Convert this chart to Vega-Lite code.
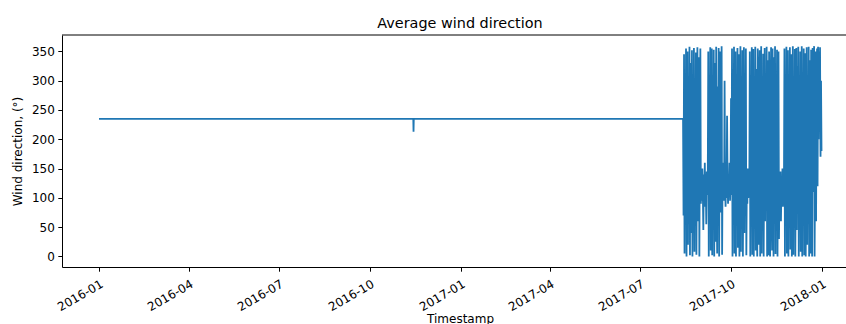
{
 "$schema": "https://vega.github.io/schema/vega-lite/v6.json",
 "width": 784, "height": 232,
 "autosize": {"type": "none"},
 "padding": {"left": 62, "top": 35, "right": 0, "bottom": 57},
 "background": "white",
 "config": {
  "view": {"stroke": null},
  "font": "DejaVu Sans",
  "axis": {"grid": false, "domainColor": "black", "domainWidth": 1, "tickColor": "black", "tickWidth": 1, "tickSize": 4.2, "labelColor": "black", "labelFontSize": 12, "labelFont": "DejaVu Sans", "titleFont": "DejaVu Sans", "titleFontSize": 12, "titleFontWeight": "normal", "titleColor": "black", "labelOverlap": false}
 },
 "title": {"text": "Average wind direction", "fontSize": 14.4, "fontWeight": "normal", "font": "DejaVu Sans", "color": "black", "anchor": "middle", "dx": 6, "offset": 3},
 "datasets": {
  "wind": [
   {"t":"2016-01-01T00:00","v":235},{"t":"2016-11-13T18:00","v":235},{"t":"2016-11-14T00:00","v":213},{"t":"2016-11-14T06:00","v":235},{"t":"2017-08-13T12:00","v":235},
   {"t":"2017-08-14T00:00","v":70},{"t":"2017-08-14T12:00","v":345},{"t":"2017-08-15T00:00","v":5},{"t":"2017-08-15T12:00","v":300},{"t":"2017-08-16T00:00","v":120},{"t":"2017-08-16T12:00","v":355},{"t":"2017-08-17T00:00","v":0},{"t":"2017-08-17T12:00","v":150},{"t":"2017-08-18T00:00","v":350},{"t":"2017-08-18T12:00","v":20},{"t":"2017-08-19T00:00","v":260},{"t":"2017-08-19T12:00","v":95},{"t":"2017-08-20T00:00","v":358},{"t":"2017-08-20T12:00","v":2},{"t":"2017-08-21T00:00","v":330},{"t":"2017-08-21T12:00","v":110},{"t":"2017-08-22T00:00","v":40},{"t":"2017-08-22T12:00","v":352},{"t":"2017-08-23T00:00","v":0},{"t":"2017-08-23T12:00","v":200},{"t":"2017-08-24T00:00","v":135},{"t":"2017-08-24T12:00","v":356},{"t":"2017-08-25T00:00","v":8},{"t":"2017-08-25T12:00","v":280},{"t":"2017-08-26T00:00","v":100},{"t":"2017-08-26T12:00","v":348},{"t":"2017-08-27T00:00","v":3},{"t":"2017-08-27T12:00","v":175},{"t":"2017-08-28T00:00","v":357},{"t":"2017-08-28T12:00","v":60},{"t":"2017-08-29T00:00","v":125},{"t":"2017-08-29T12:00","v":340},{"t":"2017-08-30T00:00","v":0},{"t":"2017-08-30T12:00","v":230},{"t":"2017-08-31T00:00","v":355},{"t":"2017-08-31T12:00","v":90},
   {"t":"2017-09-01T00:00","v":130},{"t":"2017-09-01T12:00","v":95},{"t":"2017-09-02T00:00","v":150},{"t":"2017-09-02T12:00","v":110},{"t":"2017-09-03T00:00","v":45},{"t":"2017-09-03T12:00","v":140},{"t":"2017-09-04T00:00","v":100},{"t":"2017-09-04T12:00","v":160},{"t":"2017-09-05T00:00","v":85},{"t":"2017-09-05T12:00","v":120},{"t":"2017-09-06T00:00","v":55},{"t":"2017-09-06T12:00","v":145},{"t":"2017-09-07T00:00","v":105},{"t":"2017-09-07T12:00","v":135},
   {"t":"2017-09-08T00:00","v":350},{"t":"2017-09-08T12:00","v":0},{"t":"2017-09-09T00:00","v":310},{"t":"2017-09-09T12:00","v":90},{"t":"2017-09-10T00:00","v":357},{"t":"2017-09-10T12:00","v":10},{"t":"2017-09-11T00:00","v":140},{"t":"2017-09-11T12:00","v":355},{"t":"2017-09-12T00:00","v":2},{"t":"2017-09-12T12:00","v":250},{"t":"2017-09-13T00:00","v":115},{"t":"2017-09-13T12:00","v":353},{"t":"2017-09-14T00:00","v":0},{"t":"2017-09-14T12:00","v":180},{"t":"2017-09-15T00:00","v":330},{"t":"2017-09-15T12:00","v":25},{"t":"2017-09-16T00:00","v":358},{"t":"2017-09-16T12:00","v":100},{"t":"2017-09-17T00:00","v":5},{"t":"2017-09-17T12:00","v":290},{"t":"2017-09-18T00:00","v":130},{"t":"2017-09-18T12:00","v":356},{"t":"2017-09-19T00:00","v":0},{"t":"2017-09-19T12:00","v":215},{"t":"2017-09-20T00:00","v":350},{"t":"2017-09-20T12:00","v":75},{"t":"2017-09-21T00:00","v":120},{"t":"2017-09-21T12:00","v":359},{"t":"2017-09-22T00:00","v":3},{"t":"2017-09-22T12:00","v":160},
   {"t":"2017-09-23T00:00","v":110},{"t":"2017-09-23T12:00","v":145},{"t":"2017-09-24T00:00","v":95},{"t":"2017-09-24T12:00","v":300},{"t":"2017-09-25T00:00","v":120},{"t":"2017-09-25T12:00","v":85},{"t":"2017-09-26T00:00","v":150},{"t":"2017-09-26T12:00","v":100},{"t":"2017-09-27T00:00","v":240},{"t":"2017-09-27T12:00","v":130},{"t":"2017-09-28T00:00","v":90},{"t":"2017-09-28T12:00","v":140},{"t":"2017-09-29T00:00","v":115},{"t":"2017-09-29T12:00","v":160},{"t":"2017-09-30T00:00","v":95},{"t":"2017-09-30T12:00","v":125},{"t":"2017-10-01T00:00","v":270},{"t":"2017-10-01T12:00","v":105},
   {"t":"2017-10-02T00:00","v":355},{"t":"2017-10-02T12:00","v":0},{"t":"2017-10-03T00:00","v":320},{"t":"2017-10-03T12:00","v":120},{"t":"2017-10-04T00:00","v":358},{"t":"2017-10-04T12:00","v":5},{"t":"2017-10-05T00:00","v":100},{"t":"2017-10-05T12:00","v":350},{"t":"2017-10-06T00:00","v":0},{"t":"2017-10-06T12:00","v":270},{"t":"2017-10-07T00:00","v":140},{"t":"2017-10-07T12:00","v":356},{"t":"2017-10-08T00:00","v":15},{"t":"2017-10-08T12:00","v":195},{"t":"2017-10-09T00:00","v":345},{"t":"2017-10-09T12:00","v":0},{"t":"2017-10-10T00:00","v":130},{"t":"2017-10-10T12:00","v":359},{"t":"2017-10-11T00:00","v":8},{"t":"2017-10-11T12:00","v":240},{"t":"2017-10-12T00:00","v":90},{"t":"2017-10-12T12:00","v":352},{"t":"2017-10-13T00:00","v":0},{"t":"2017-10-13T12:00","v":160},{"t":"2017-10-14T00:00","v":357},{"t":"2017-10-14T12:00","v":40},{"t":"2017-10-15T00:00","v":310},{"t":"2017-10-15T12:00","v":110},{"t":"2017-10-16T00:00","v":355},{"t":"2017-10-16T12:00","v":2},
   {"t":"2017-10-17T00:00","v":130},{"t":"2017-10-17T12:00","v":90},{"t":"2017-10-18T00:00","v":150},{"t":"2017-10-18T12:00","v":100},{"t":"2017-10-19T00:00","v":140},{"t":"2017-10-19T12:00","v":115},
   {"t":"2017-10-20T00:00","v":350},{"t":"2017-10-20T12:00","v":0},{"t":"2017-10-21T00:00","v":285},{"t":"2017-10-21T12:00","v":125},{"t":"2017-10-22T00:00","v":357},{"t":"2017-10-22T12:00","v":3},{"t":"2017-10-23T00:00","v":160},{"t":"2017-10-23T12:00","v":354},{"t":"2017-10-24T00:00","v":0},{"t":"2017-10-24T12:00","v":230},{"t":"2017-10-25T00:00","v":105},{"t":"2017-10-25T12:00","v":358},{"t":"2017-10-26T00:00","v":10},{"t":"2017-10-26T12:00","v":320},{"t":"2017-10-27T00:00","v":95},{"t":"2017-10-27T12:00","v":0},{"t":"2017-10-28T00:00","v":355},{"t":"2017-10-28T12:00","v":140},{"t":"2017-10-29T00:00","v":20},{"t":"2017-10-29T12:00","v":300},{"t":"2017-10-30T00:00","v":352},{"t":"2017-10-30T12:00","v":0},{"t":"2017-10-31T00:00","v":115},{"t":"2017-10-31T12:00","v":359},
   {"t":"2017-11-01T00:00","v":5},{"t":"2017-11-01T12:00","v":210},{"t":"2017-11-02T00:00","v":130},{"t":"2017-11-02T12:00","v":346},{"t":"2017-11-03T00:00","v":0},{"t":"2017-11-03T12:00","v":175},{"t":"2017-11-04T00:00","v":356},{"t":"2017-11-04T12:00","v":60},{"t":"2017-11-05T00:00","v":255},{"t":"2017-11-05T12:00","v":98},{"t":"2017-11-06T00:00","v":358},{"t":"2017-11-06T12:00","v":0},{"t":"2017-11-07T00:00","v":335},{"t":"2017-11-07T12:00","v":120},{"t":"2017-11-08T00:00","v":2},{"t":"2017-11-08T12:00","v":350},{"t":"2017-11-09T00:00","v":150},{"t":"2017-11-09T12:00","v":0},{"t":"2017-11-10T00:00","v":270},{"t":"2017-11-10T12:00","v":357},{"t":"2017-11-11T00:00","v":85},{"t":"2017-11-11T12:00","v":10},{"t":"2017-11-12T00:00","v":355},{"t":"2017-11-12T12:00","v":190},{"t":"2017-11-13T00:00","v":0},{"t":"2017-11-13T12:00","v":340},{"t":"2017-11-14T00:00","v":110},{"t":"2017-11-14T12:00","v":359},{"t":"2017-11-15T00:00","v":4},{"t":"2017-11-15T12:00","v":230},{"t":"2017-11-16T00:00","v":125},{"t":"2017-11-16T12:00","v":353},{"t":"2017-11-17T00:00","v":0},{"t":"2017-11-17T12:00","v":165},{"t":"2017-11-18T00:00","v":350},{"t":"2017-11-18T12:00","v":30},
   {"t":"2017-11-19T00:00","v":120},{"t":"2017-11-19T12:00","v":95},{"t":"2017-11-20T00:00","v":145},{"t":"2017-11-20T12:00","v":60},{"t":"2017-11-21T00:00","v":130},{"t":"2017-11-21T12:00","v":100},{"t":"2017-11-22T00:00","v":150},{"t":"2017-11-22T12:00","v":85},{"t":"2017-11-23T00:00","v":140},{"t":"2017-11-23T12:00","v":110},
   {"t":"2017-11-24T00:00","v":355},{"t":"2017-11-24T12:00","v":0},{"t":"2017-11-25T00:00","v":310},{"t":"2017-11-25T12:00","v":130},{"t":"2017-11-26T00:00","v":358},{"t":"2017-11-26T12:00","v":5},{"t":"2017-11-27T00:00","v":100},{"t":"2017-11-27T12:00","v":352},{"t":"2017-11-28T00:00","v":0},{"t":"2017-11-28T12:00","v":250},{"t":"2017-11-29T00:00","v":140},{"t":"2017-11-29T12:00","v":357},{"t":"2017-11-30T00:00","v":12},{"t":"2017-11-30T12:00","v":190},
   {"t":"2017-12-01T00:00","v":345},{"t":"2017-12-01T12:00","v":0},{"t":"2017-12-02T00:00","v":120},{"t":"2017-12-02T12:00","v":359},{"t":"2017-12-03T00:00","v":3},{"t":"2017-12-03T12:00","v":280},{"t":"2017-12-04T00:00","v":95},{"t":"2017-12-04T12:00","v":354},{"t":"2017-12-05T00:00","v":0},{"t":"2017-12-05T12:00","v":165},{"t":"2017-12-06T00:00","v":356},{"t":"2017-12-06T12:00","v":45},{"t":"2017-12-07T00:00","v":325},{"t":"2017-12-07T12:00","v":115},{"t":"2017-12-08T00:00","v":358},{"t":"2017-12-08T12:00","v":0},{"t":"2017-12-09T00:00","v":220},{"t":"2017-12-09T12:00","v":135},{"t":"2017-12-10T00:00","v":350},{"t":"2017-12-10T12:00","v":8},{"t":"2017-12-11T00:00","v":105},{"t":"2017-12-11T12:00","v":359},{"t":"2017-12-12T00:00","v":0},{"t":"2017-12-12T12:00","v":295},{"t":"2017-12-13T00:00","v":150},{"t":"2017-12-13T12:00","v":355},{"t":"2017-12-14T00:00","v":2},{"t":"2017-12-14T12:00","v":180},{"t":"2017-12-15T00:00","v":347},{"t":"2017-12-15T12:00","v":0},{"t":"2017-12-16T00:00","v":128},{"t":"2017-12-16T12:00","v":357},{"t":"2017-12-17T00:00","v":20},{"t":"2017-12-17T12:00","v":260},{"t":"2017-12-18T00:00","v":90},{"t":"2017-12-18T12:00","v":358},{"t":"2017-12-19T00:00","v":0},{"t":"2017-12-19T12:00","v":335},{"t":"2017-12-20T00:00","v":140},{"t":"2017-12-20T12:00","v":5},{"t":"2017-12-21T00:00","v":353},{"t":"2017-12-21T12:00","v":175},{"t":"2017-12-22T00:00","v":0},{"t":"2017-12-22T12:00","v":356},{"t":"2017-12-23T00:00","v":110},{"t":"2017-12-23T12:00","v":240},{"t":"2017-12-24T00:00","v":359},{"t":"2017-12-24T12:00","v":0},{"t":"2017-12-25T00:00","v":150},{"t":"2017-12-25T12:00","v":350},{"t":"2017-12-26T00:00","v":60},{"t":"2017-12-26T12:00","v":300},{"t":"2017-12-27T00:00","v":355},{"t":"2017-12-27T12:00","v":120},{"t":"2017-12-28T00:00","v":358},{"t":"2017-12-28T12:00","v":200},{"t":"2017-12-29T00:00","v":350},{"t":"2017-12-29T12:00","v":260},{"t":"2017-12-30T00:00","v":357},{"t":"2017-12-30T12:00","v":170},{"t":"2017-12-31T00:00","v":300},{"t":"2017-12-31T12:00","v":180}
  ],
  "frame": [{"top": 378}]
 },
 "layer": [
  {
   "data": {"name": "wind"},
   "mark": {"type": "line", "color": "#1f77b4", "strokeWidth": 1.8, "clip": true},
   "encoding": {
    "x": {"field": "t", "type": "temporal",
     "scale": {"domain": [{"year": 2015, "month": 11, "date": 24, "hours": 14}, {"year": 2018, "month": 1, "date": 25, "hours": 6}]},
     "axis": {"title": "Timestamp", "format": "%Y-%m",
      "values": [{"year": 2016, "month": 1, "date": 1}, {"year": 2016, "month": 4, "date": 1}, {"year": 2016, "month": 7, "date": 1}, {"year": 2016, "month": 10, "date": 1}, {"year": 2017, "month": 1, "date": 1}, {"year": 2017, "month": 4, "date": 1}, {"year": 2017, "month": 7, "date": 1}, {"year": 2017, "month": 10, "date": 1}, {"year": 2018, "month": 1, "date": 1}],
      "labelAngle": -30, "labelAlign": "right", "labelBaseline": "top", "labelPadding": 7, "labelFlush": false,
      "titleX": 398, "titleY": 46, "titleBaseline": "top"}},
    "y": {"field": "v", "type": "quantitative",
     "scale": {"domain": [-18, 378], "nice": false, "zero": false},
     "axis": {"title": "Wind direction, (°)", "values": [0, 50, 100, 150, 200, 250, 300, 350], "labelPadding": 3.5, "titlePadding": 7}}
   }
  },
  {
   "data": {"name": "frame"},
   "mark": {"type": "rule", "color": "black", "strokeWidth": 1},
   "encoding": {"y": {"field": "top", "type": "quantitative",
     "axis": {"title": "Wind direction, (°)", "values": [0, 50, 100, 150, 200, 250, 300, 350], "labelPadding": 3.5, "titlePadding": 7}}}
  }
 ]
}
